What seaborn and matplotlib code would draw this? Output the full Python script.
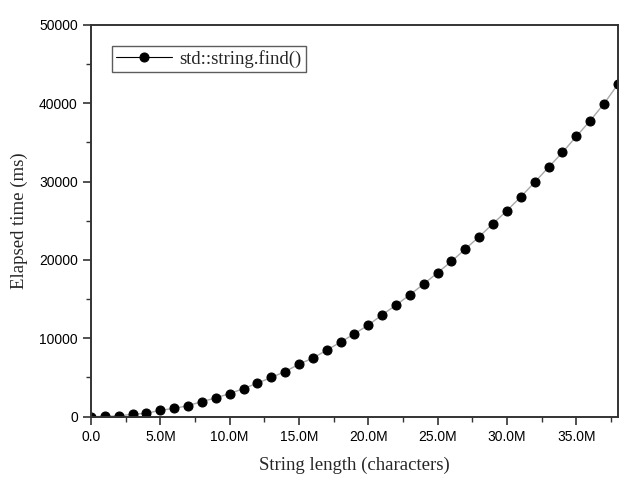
import matplotlib
matplotlib.use("Agg")
import matplotlib.pyplot as plt
import seaborn as sns
import pandas as pd
from matplotlib.ticker import MultipleLocator, FuncFormatter

# string length (millions of characters) and elapsed time (ms)
length_m = list(range(0, 39))
elapsed_ms = [0, 30, 100, 300, 430, 810, 1060, 1400, 1920, 2390,
              2940, 3580, 4270, 5000, 5750, 6700, 7470, 8490, 9510, 10580,
              11690, 13000, 14240, 15560, 16930, 18380, 19820, 21400, 22980, 24640,
              26300, 28060, 29920, 31840, 33720, 35770, 37770, 39950, 42420]
series_label = "std::string.find()"

df = pd.DataFrame({"length": [v * 1e6 for v in length_m], "elapsed": elapsed_ms})

sns.set_style("ticks")
plt.rcParams['font.family'] = ['Liberation Sans', 'DejaVu Sans']

fig = plt.figure(figsize=(6.31, 4.8), dpi=100)
ax = fig.add_axes([0.1442, 0.132, 0.835, 0.816])

sns.lineplot(data=df, x="length", y="elapsed", ax=ax, color="#a8a8a8", linewidth=1.0,
             marker="o", markersize=6.5, markerfacecolor="black", markeredgecolor="black",
             label=series_label)

ax.set_xlim(0, 38e6)
ax.set_ylim(0, 50000)
ax.xaxis.set_major_locator(MultipleLocator(5e6))
ax.xaxis.set_minor_locator(MultipleLocator(2.5e6))
ax.yaxis.set_major_locator(MultipleLocator(10000))
ax.yaxis.set_minor_locator(MultipleLocator(5000))
ax.xaxis.set_major_formatter(FuncFormatter(lambda v, p: "0.0" if v == 0 else f"{v / 1e6:.1f}M"))

ax.tick_params(which="major", direction="out", length=6, width=1.2, colors="#333333",
               labelsize=10, labelcolor="black")
ax.tick_params(which="minor", direction="out", length=3.5, width=1.0, colors="#333333")
for s in ax.spines.values():
    s.set_visible(True)
    s.set_linewidth(1.4)
    s.set_color("#333333")

ax.set_xlabel("String length (characters)", family=["Liberation Serif"], fontsize=13.5, labelpad=9)
ax.set_ylabel("Elapsed time (ms)", family=["Liberation Serif"], fontsize=13.5, labelpad=8)

leg = ax.legend(loc="upper left", bbox_to_anchor=(0.04, 0.946), frameon=True, fancybox=False,
                prop={"family": "Liberation Serif", "size": 13.5}, handlelength=3,
                borderpad=0.2, handletextpad=0.4, borderaxespad=0)
leg.get_frame().set_edgecolor("#333333")
leg.get_frame().set_linewidth(1.0)
for line in leg.get_lines():
    line.set_color("black")
    line.set_linewidth(0.8)

fig.savefig("out.png", dpi=100)
